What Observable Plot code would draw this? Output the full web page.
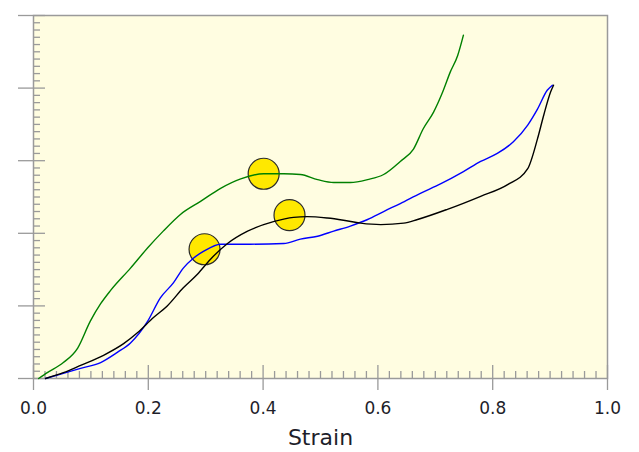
<!DOCTYPE html>
<html>
<head>
<meta charset="utf-8">
<script src="https://cdn.jsdelivr.net/npm/d3@7"></script>
<script src="https://cdn.jsdelivr.net/npm/@observablehq/plot@0.6"></script>
<style>
  html, body { margin: 0; padding: 0; background: #ffffff; }
  #chart svg { display: block; }
</style>
</head>
<body>
<div id="chart"></div>
<script>
// Strain / value pairs
const greenX = [0.009,0.024,0.052,0.077,0.099,0.117,0.134,0.169,0.199,0.226,0.256,0.291,0.326,0.361,0.401,0.436,0.465,0.495,0.523,0.552,0.582,0.610,0.639,0.662,0.679,0.697,0.713,0.726,0.739,0.749];
const greenY = [0.00,0.08,0.22,0.42,0.79,1.03,1.21,1.52,1.80,2.03,2.26,2.44,2.62,2.75,2.82,2.82,2.81,2.74,2.70,2.70,2.74,2.81,2.99,3.16,3.44,3.67,3.95,4.22,4.45,4.73];

const blueX = [0.021,0.052,0.082,0.117,0.146,0.169,0.199,0.221,0.244,0.261,0.279,0.296,0.326,0.378,0.436,0.465,0.495,0.523,0.552,0.582,0.610,0.639,0.674,0.709,0.749,0.779,0.808,0.836,0.861,0.878,0.895,0.904];
const blueY = [0.00,0.07,0.14,0.22,0.36,0.49,0.79,1.11,1.32,1.52,1.66,1.75,1.85,1.85,1.86,1.92,1.96,2.03,2.10,2.19,2.30,2.41,2.55,2.68,2.85,2.99,3.10,3.26,3.49,3.71,3.97,4.04];

const blackX = [0.021,0.052,0.082,0.122,0.157,0.181,0.209,0.233,0.261,0.286,0.308,0.338,0.373,0.418,0.453,0.477,0.512,0.540,0.570,0.605,0.645,0.669,0.721,0.779,0.826,0.861,0.878,0.889,0.901,0.906];
const blackY = [0.00,0.08,0.18,0.32,0.48,0.63,0.84,1.00,1.25,1.44,1.64,1.86,2.03,2.16,2.22,2.23,2.21,2.18,2.14,2.12,2.14,2.19,2.33,2.51,2.67,2.89,3.30,3.63,3.95,4.04];

const markerX = [0.401, 0.446, 0.298];
const markerY = [2.82, 2.25, 1.78];

const xMajor = [0, 0.2, 0.4, 0.6, 0.8, 1.0];
const xTickLabels = ["0.0", "0.2", "0.4", "0.6", "0.8", "1.0"];
const xMinor = d3.range(0, 50).map(i => i * 0.02).filter((v, i) => i % 10 !== 0);
const yMajor = [0, 1, 2, 3, 4, 5];
const yMinor = d3.range(0, 50).map(i => i * 0.1).filter((v, i) => i % 10 !== 0);

const toRows = (xs, ys, s) => xs.map((x, i) => ({x, y: ys[i], s}));
const curves = [
  ...toRows(greenX, greenY, "green"),
  ...toRows(blueX, blueY, "blue"),
  ...toRows(blackX, blackY, "black")
];
const markers = markerX.map((x, i) => ({x, y: markerY[i]}));

const W = 639, H = 452;
const mT = 15, mR = 32, mB = 74, mL = 33;
const innerW = W - mL - mR, innerH = H - mT - mB;
const axisGray = "#9a9a9a";

const chart = Plot.plot({
  width: W,
  height: H,
  marginTop: mT,
  marginRight: mR,
  marginBottom: mB,
  marginLeft: mL,
  style: {fontFamily: "'DejaVu Sans', sans-serif", background: "#ffffff"},
  x: {domain: [0, 1]},
  y: {domain: [0, 5]},
  color: {domain: ["green", "blue", "black"], range: ["#1f8a1f", "#0000ff", "#000000"]},
  marks: [
    Plot.frame({fill: "#fffde1", stroke: null}),
    // inward ticks
    Plot.tickX(xMinor, {x: d => d, stroke: axisGray, strokeWidth: 1.3, insetTop: innerH - 7}),
    Plot.tickX(xMajor, {x: d => d, stroke: axisGray, strokeWidth: 1.3, insetTop: innerH - 13}),
    Plot.tickY(yMinor, {y: d => d, stroke: axisGray, strokeWidth: 1.3, insetRight: innerW - 7}),
    Plot.tickY(yMajor, {y: d => d, stroke: axisGray, strokeWidth: 1.3, insetRight: innerW - 12}),
    // outward ticks and labels
    Plot.axisX(xMajor, {
      tickSize: 12, tickPadding: 11, stroke: axisGray, strokeWidth: 1.3,
      tickFormat: (d, i) => xTickLabels[i], fontSize: 17, fill: "#1e1e2a", label: null
    }),
    Plot.axisY(yMajor, {
      tickSize: 15, stroke: axisGray, strokeWidth: 1.3, tickFormat: () => "", label: null
    }),
    Plot.frame({stroke: axisGray, strokeWidth: 1.5}),
    Plot.dot(markers, {x: "x", y: "y", r: 15.5, fill: "#ffe800", stroke: "#2a2a2a", strokeWidth: 1.2}),
    Plot.line(curves, {x: "x", y: "y", z: "s", stroke: "s", strokeWidth: 1.4, curve: "monotone-x"}),
    Plot.text(["Strain"], {frameAnchor: "bottom", dy: 59, fontSize: 22, fill: "#1e1e2a", lineAnchor: "middle"})
  ]
});

document.getElementById("chart").appendChild(chart);
</script>
</body>
</html>
